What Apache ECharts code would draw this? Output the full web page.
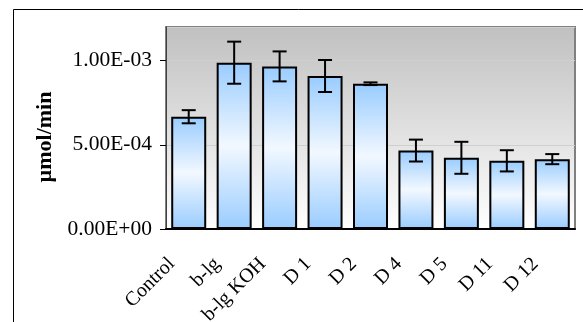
<!DOCTYPE html>
<html><head><meta charset="utf-8">
<script src="https://cdn.jsdelivr.net/npm/echarts@6/dist/echarts.min.js"></script>
<style>html,body{margin:0;padding:0;background:#fff}#c{width:583px;height:322px}</style>
</head><body><div id="c"></div>
<script>
var categories = ['Control','b-lg','b-lg KOH','D 1','D 2','D 4','D 5','D 11','D 12'];
var values = [6.67e-4, 9.88e-4, 9.66e-4, 9.09e-4, 8.63e-4, 4.66e-4, 4.23e-4, 4.05e-4, 4.15e-4];
var errors = [3.9e-5, 1.25e-4, 8.9e-5, 9.5e-5, 8e-6, 6.5e-5, 9.5e-5, 6.3e-5, 3e-5];
var yTicks = [0, 5e-4, 1e-3];

var chart = echarts.init(document.getElementById('c'));
var font = '"Liberation Serif", "Times New Roman", serif';
function fmt(v){
  var s = v.toExponential(2).toUpperCase();
  s = s.replace(/E([+-])(\d)$/, 'E$10$2');
  return s;
}
chart.setOption({
  animation: false,
  backgroundColor: '#fff',
  graphic: [{type:'rect', shape:{x:13.5,y:9.5,width:600,height:400}, style:{fill:'none',stroke:'#000',lineWidth:1}, z:-1}],
  grid: {left:166, top:27, right:8, bottom:93, show:true, borderColor:'#808080', borderWidth:2,
    outerBoundsMode:'none', containLabel:false,
    backgroundColor: new echarts.graphic.LinearGradient(0,0,0,1,[{offset:0,color:'#c0c0c0'},{offset:1,color:'#ffffff'}])},
  xAxis: {type:'category', data:categories,
    axisLine:{lineStyle:{color:'#000',width:2}},
    axisTick:{alignWithLabel:false, length:5, lineStyle:{color:'#000'}},
    axisLabel:{rotate:45, fontFamily:font, fontSize:20, color:'#000', margin:15, interval:0, padding:[0,24,0,0]}},
  yAxis: {type:'value', min:0, max:1.2e-3, interval:5e-4,
    name:'\u00b5mol/min', nameLocation:'middle', nameGap:104,
    nameTextStyle:{fontFamily:font, fontSize:22, fontWeight:'bold', color:'#000', padding:[0,18,0,0]},
    axisLine:{show:true, lineStyle:{color:'#404040',width:1}},
    axisTick:{show:true, length:6, lineStyle:{color:'#000'}},
    splitLine:{lineStyle:{color:'#cfcfcf',width:1}},
    axisLabel:{showMaxLabel:false, fontFamily:font, fontSize:21.5, color:'#000', margin:14,
      formatter:function(v){return fmt(v);}}},
  series: [{
    type:'bar', data:values, barWidth:'77%',
    itemStyle:{borderColor:'#000', borderWidth:2,
      color:new echarts.graphic.LinearGradient(0,0,0,1,[{offset:0,color:'#99ccff'},{offset:0.5,color:'#f2f8ff'},{offset:1,color:'#99ccff'}])}
  },{
    type:'custom', z:10,
    data: values.map(function(v,i){return [i, v-errors[i], v+errors[i]];}),
    renderItem:function(params, api){
      var x = api.value(0);
      var lo = api.coord([x, api.value(1)]);
      var hi = api.coord([x, api.value(2)]);
      var hw = 7;
      var st = {stroke:'#000', lineWidth:2};
      return {type:'group', children:[
        {type:'line', shape:{x1:lo[0],y1:lo[1],x2:hi[0],y2:hi[1]}, style:st},
        {type:'line', shape:{x1:lo[0]-hw,y1:lo[1],x2:lo[0]+hw,y2:lo[1]}, style:st},
        {type:'line', shape:{x1:hi[0]-hw,y1:hi[1],x2:hi[0]+hw,y2:hi[1]}, style:st}
      ]};
    }
  }]
});
</script></body></html>
